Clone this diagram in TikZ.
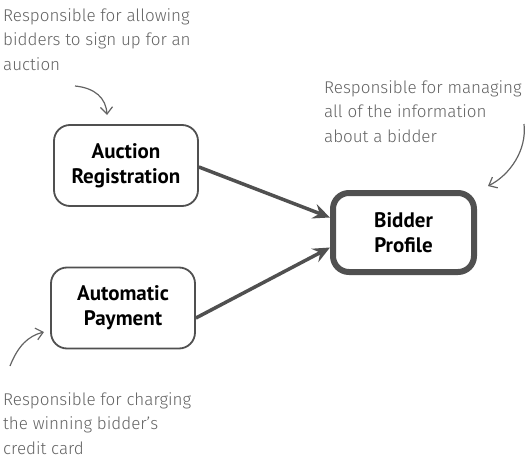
\documentclass[tikz,border=0pt]{standalone}
\usepackage{fontspec}
\setmainfont{PT Sans}
\newfontfamily\notefont{Fira Sans Light}
\usetikzlibrary{arrows.meta}
\definecolor{boxgray}{HTML}{505050}
\definecolor{notegray}{HTML}{636363}
\tikzset{
  box/.style={draw=boxgray, line width=1.8pt, rounded corners=16pt, fill=white,
    minimum width=144pt, minimum height=81pt, align=center,
    font=\fontsize{21}{25}\selectfont\bfseries},
  bigbox/.style={box, line width=6pt, minimum width=141pt, minimum height=79pt},
  link/.style={draw=boxgray, line width=3.5pt, -{Stealth[length=17pt, width=15pt, inset=6pt]}},
  note/.style={align=left, anchor=north west, text=notegray, inner sep=0pt,
    font=\notefont\fontsize{17}{24.5}\selectfont},
  notearrow/.style={draw=notegray, line width=1.2pt, -{Straight Barb[length=7pt, width=12pt]}}
}
\begin{document}
\begin{tikzpicture}[x=1pt, y=-1pt]
\useasboundingbox (0,0) rectangle (528,458);
\node[box] (reg) at (126,165.5) {Auction\\Registration};
\node[box] (pay) at (123,308) {Automatic\\Payment};
\node[bigbox] (bid) at (403.5,232.5) {Bidder\\Profile};
\coordinate (r1) at ([yshift=-1.5pt]reg.east);
\coordinate (p1) at ([yshift=-10pt]pay.east);
\coordinate (b1) at ([yshift=15pt]bid.west);
\coordinate (b2) at ([yshift=-15pt]bid.west);
\draw[link] (r1) -- (b1);
\draw[link] (p1) -- (b2);
\node[note] (n1) at (3,8) {Responsible for allowing\\bidders to sign up for an\\auction};
\node[note] (n2) at (324,80) {Responsible for managing\\all of the information\\about a bidder};
\node[note] (n3) at (3,392) {Responsible for charging\\the winning bidder’s\\credit card};
\coordinate (a1s) at (75,86);
\coordinate (a1e) at (107,115);
\draw[notearrow] (a1s) .. controls (95,88) and (106,98) .. (a1e);
\coordinate (a2s) at (524,124);
\coordinate (a2e) at (488,186);
\draw[notearrow] (a2s) .. controls (527,150) and (510,175) .. (a2e);
\coordinate (a3s) at (10,366);
\coordinate (a3e) at (44,332);
\draw[notearrow] (a3s) .. controls (18,346) and (28,336) .. (a3e);
\end{tikzpicture}
\end{document}
